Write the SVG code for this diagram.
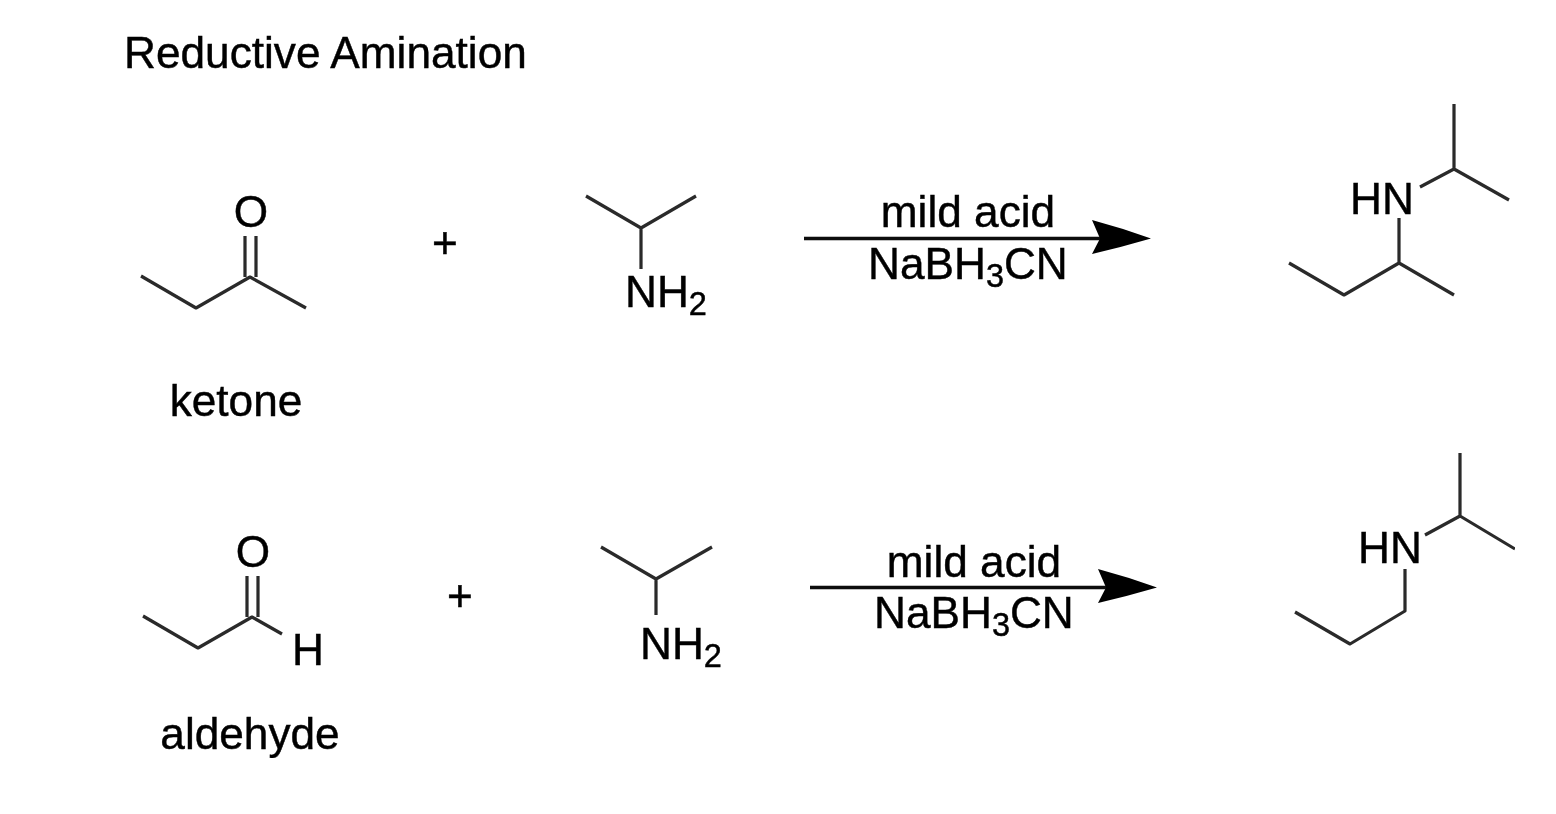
<svg xmlns="http://www.w3.org/2000/svg" width="1556" height="814" viewBox="0 0 1556 814">
<style>
text{font-family:"Liberation Sans",Arial,sans-serif;font-size:44.2px;fill:#000;stroke:#000;stroke-width:.45}
.m{text-anchor:middle}
.s{font-size:32.500px}
.b{fill:none;stroke:#2a2a2a;stroke-width:3.2;stroke-linejoin:round;stroke-linecap:butt}
.a{fill:none;stroke:#111;stroke-width:3.6}
.h{fill:#000}
</style>
<defs><filter id="soft" x="0" y="0" width="100%" height="100%"><feGaussianBlur stdDeviation="0.7"/></filter></defs>
<rect width="1556" height="814" fill="#fff"/>
<g filter="url(#soft)">
<g id="title"><text x="124" y="68">Reductive Amination</text></g>
<g id="ketone">
<path class="b" d="M141 276L196 308L250 277L306 308M245 236V277M256 236V277"/>
<text class="m" x="251" y="226.500">O</text>
</g>
<g id="ketone-label"><text class="m" x="236" y="416">ketone</text></g>
<g id="plus-1"><text class="m" x="445" y="257.500">+</text></g>
<g id="amine-1">
<path class="b" d="M586 196L641 228L696 196M641 228V269"/>
<text x="625" y="307">NH<tspan class="s" dy="8">2</tspan></text>
</g>
<g id="product-1">
<path class="b" d="M1454 104V169M1420 187L1454 169L1509 200M1399 218V263M1289 263L1344 295L1399 263L1454 295"/>
<text x="1350" y="214">HN</text>
</g>
<g id="aldehyde">
<path class="b" d="M143 616L198 648L252 617L282 634M247 576V617M258 576V617"/>
<text class="m" x="253" y="566.500">O</text>
<text x="292" y="665">H</text>
</g>
<g id="aldehyde-label"><text class="m" x="250" y="749">aldehyde</text></g>
<g id="plus-2"><text class="m" x="460" y="610.500">+</text></g>
<g id="amine-2">
<path class="b" d="M601 547L656 579L712 547M656 579V615"/>
<text x="640" y="659">NH<tspan class="s" dy="8">2</tspan></text>
</g>
<g id="product-2">
<path class="b" d="M1460 453V516M1425 535L1460 516L1515 549M1405 569V611L1350 644L1295 612"/>
<text x="1358" y="563">HN</text>
</g>
<g id="connectors">
<path class="a" d="M804 238.500H1110"/>
<path class="h" d="M1151 238.500Q1122 228 1092 220L1100 238.500L1092 254Q1122 247 1151 238.500Z"/>
<path class="a" d="M810 587.500H1116"/>
<path class="h" d="M1157 587.500Q1128 577 1098 569L1106 587.500L1098 603Q1128 596 1157 587.500Z"/>
</g>
<g id="reagents-1">
<text class="m" x="968" y="227">mild acid</text>
<text x="868" y="279">NaBH<tspan class="s" dy="8">3</tspan><tspan dy="-8">CN</tspan></text>
</g>
<g id="reagents-2">
<text class="m" x="974" y="577">mild acid</text>
<text x="874" y="628">NaBH<tspan class="s" dy="8">3</tspan><tspan dy="-8">CN</tspan></text>
</g>
</g>
</svg>
